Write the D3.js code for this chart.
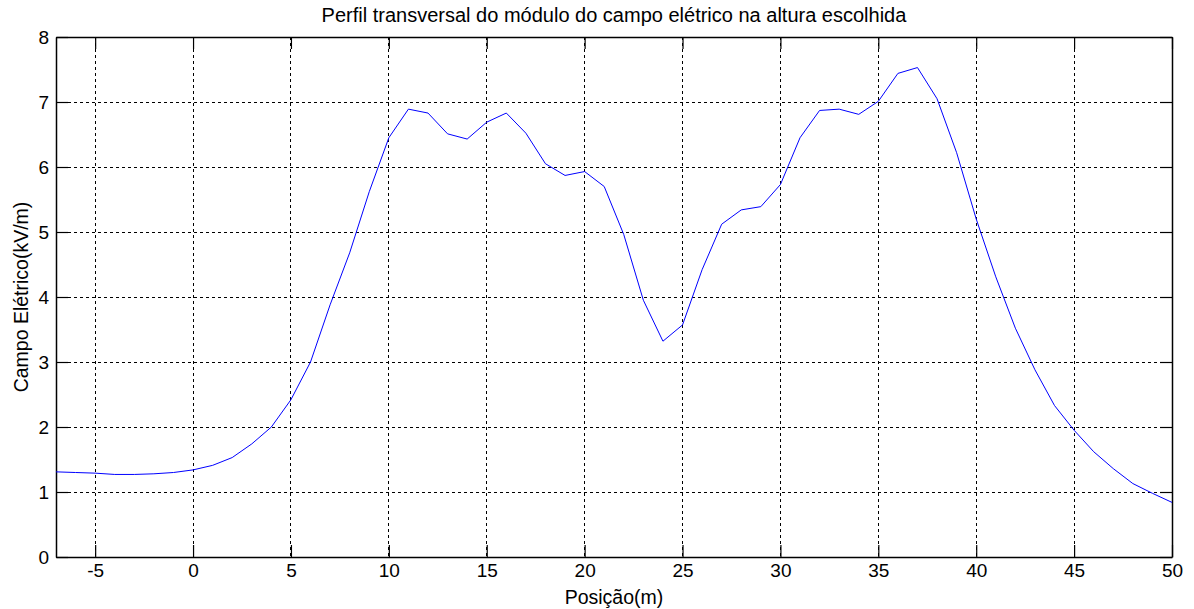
<!doctype html>
<html lang="pt">
<head>
<meta charset="utf-8">
<title>Perfil transversal</title>
<style>
  body { margin: 0; background: #ffffff; }
  svg text { font-family: Arial, "Liberation Sans", sans-serif; fill: #000; }
</style>
</head>
<body>
<script src="https://d3js.org/d3.v7.min.js"></script>
<script>
// posição (m)
var posicao = d3.range(-7, 51);
// módulo do campo elétrico (kV/m)
var campo = [1.31, 1.30, 1.29, 1.27, 1.27, 1.28, 1.30, 1.34,
  1.41, 1.53, 1.74, 2.00, 2.42, 3.00, 3.88, 4.68, 5.62,
  6.45, 6.89, 6.83, 6.51, 6.43, 6.69, 6.83, 6.52, 6.05,
  5.87, 5.93, 5.70, 4.96, 3.95, 3.32, 3.57, 4.42, 5.12,
  5.34, 5.39, 5.73, 6.45, 6.87, 6.89, 6.81, 7.01, 7.44,
  7.53, 7.05, 6.22, 5.20, 4.31, 3.52, 2.88, 2.33, 1.95,
  1.62, 1.36, 1.13, 0.98, 0.84];
var xTicks = [-5, 0, 5, 10, 15, 20, 25, 30, 35, 40, 45, 50];
var yTicks = [0, 1, 2, 3, 4, 5, 6, 7, 8];

var w = 1194, h = 609;
var margin = {left: 56, right: 22, top: 37, bottom: 52};
var iw = w - margin.left - margin.right;
var ih = h - margin.top - margin.bottom;

var svg = d3.select("body").append("svg")
  .attr("width", w)
  .attr("height", h);

var g = svg.append("g")
  .attr("transform", "translate(" + margin.left + "," + margin.top + ")");

var x = d3.scaleLinear().domain([-7, 50]).range([0, iw]);
var y = d3.scaleLinear().domain([0, 8]).range([ih, 0]);

// grid
g.append("g").selectAll("line")
  .data(xTicks.filter(function(d) { return d > -7 && d < 50; }))
  .enter().append("line")
  .attr("x1", function(d) { return x(d); })
  .attr("x2", function(d) { return x(d); })
  .attr("y1", 0).attr("y2", ih)
  .attr("stroke", "#000")
  .attr("stroke-width", 1)
  .attr("stroke-dasharray", "3,3")
  .attr("shape-rendering", "crispEdges");

g.append("g").selectAll("line")
  .data(yTicks.filter(function(d) { return d > 0 && d < 8; }))
  .enter().append("line")
  .attr("y1", function(d) { return y(d); })
  .attr("y2", function(d) { return y(d); })
  .attr("x1", 0).attr("x2", iw)
  .attr("stroke", "#000")
  .attr("stroke-width", 1)
  .attr("stroke-dasharray", "3,3")
  .attr("shape-rendering", "crispEdges");

// axes with inner ticks on all sides
var tl = 12;
var fmt = function(d) { return String(d); };
var xb = g.append("g").attr("transform", "translate(0," + ih + ")")
  .call(d3.axisBottom(x).tickValues(xTicks).tickFormat(fmt).tickSizeInner(-tl).tickSizeOuter(0).tickPadding(7));
var xt = g.append("g")
  .call(d3.axisTop(x).tickValues(xTicks).tickSizeInner(-tl).tickSizeOuter(0).tickFormat(""));
var yl = g.append("g")
  .call(d3.axisLeft(y).tickValues(yTicks).tickFormat(fmt).tickSizeInner(-tl).tickSizeOuter(0).tickPadding(7));
var yr = g.append("g").attr("transform", "translate(" + iw + ",0)")
  .call(d3.axisRight(y).tickValues(yTicks).tickSizeInner(-tl).tickSizeOuter(0).tickFormat(""));

[xb, xt, yl, yr].forEach(function(a) {
  a.selectAll("path").attr("stroke", "#000").attr("stroke-width", 1.5);
  a.selectAll("line").attr("stroke", "#000").attr("stroke-width", 1.2);
  a.selectAll("text").style("font-size", "19px").attr("fill", "#000");
});

// curve
var line = d3.line()
  .x(function(d, i) { return x(posicao[i]); })
  .y(function(d) { return y(d); });

g.append("path")
  .datum(campo)
  .attr("d", line)
  .attr("fill", "none")
  .attr("stroke", "#0000ff")
  .attr("stroke-width", 1);

// labels
svg.append("text")
  .attr("x", margin.left + iw / 2)
  .attr("y", 22)
  .attr("text-anchor", "middle")
  .style("font-size", "20px")
  .text("Perfil transversal do módulo do campo elétrico na altura escolhida");

svg.append("text")
  .attr("x", margin.left + iw / 2)
  .attr("y", 604)
  .attr("text-anchor", "middle")
  .style("font-size", "19.5px")
  .text("Posição(m)");

svg.append("text")
  .attr("transform", "translate(28," + (margin.top + ih / 2) + ") rotate(-90)")
  .attr("text-anchor", "middle")
  .style("font-size", "19.5px")
  .text("Campo Elétrico(kV/m)");
</script>
</body>
</html>
